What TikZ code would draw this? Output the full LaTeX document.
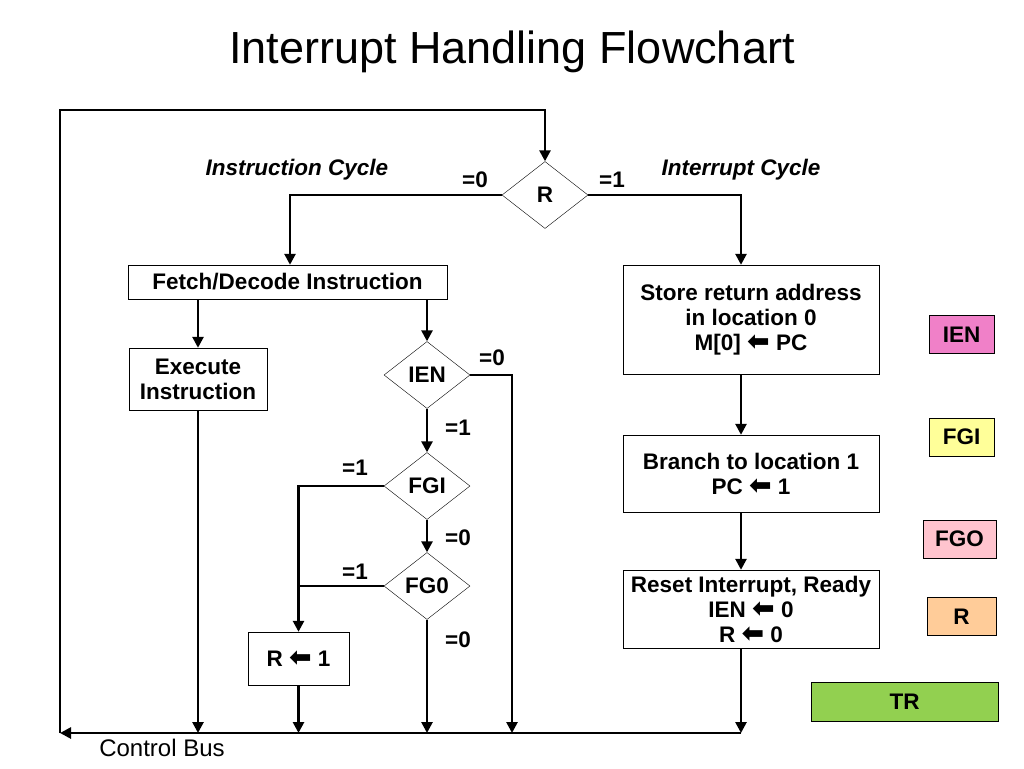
\documentclass[tikz,border=0pt]{standalone}
\usepackage{fontspec}
\setmainfont{Liberation Sans}
\newfontfamily\arrowfont{DejaVu Sans}
\usetikzlibrary{shapes.geometric,arrows.meta}
\newcommand{\getsarrow}{{\arrowfont\fontsize{27}{25}\selectfont ⬅}}
\definecolor{ienpink}{RGB}{240,128,200}
\definecolor{fgiyellow}{RGB}{255,255,153}
\definecolor{fgopink}{RGB}{255,196,206}
\definecolor{rorange}{RGB}{255,204,153}
\definecolor{trgreen}{RGB}{146,208,80}

\begin{document}
\begin{tikzpicture}[x=1pt,y=-1pt,
    font=\fontsize{22.5}{25}\selectfont\bfseries,
    box/.style={draw, thin, rectangle, inner sep=0pt, align=center},
    decision/.style={draw, thin, diamond, aspect=1.3, inner sep=0pt, minimum width=86pt, minimum height=67pt},
    flow/.style={line width=2.6pt, -{Triangle[length=11pt,width=11pt]}},
    plain/.style={line width=2.6pt},
    flag/.style={draw, thin, inner sep=0pt, minimum height=38pt}]
    \useasboundingbox (0,0) rectangle (1024,768);

    \node[font=\fontsize{45}{50}\selectfont] (title) at (512,52) {Interrupt Handling Flowchart};

    \node[decision] (R) at (545,195) {R};
    \node[box, minimum width=319pt, minimum height=34pt] (fetch) at (287.5,282) {Fetch/Decode Instruction};
    \node[box, minimum width=256pt, minimum height=109pt] (store) at (751,319.5) {Store return address\\in location 0\\M[0] \getsarrow{} PC};
    \node[box, minimum width=256pt, minimum height=77pt] (branch) at (751,473.5) {Branch to location 1\\PC \getsarrow{} 1};
    \node[box, minimum width=256pt, minimum height=78pt] (reset) at (751,609) {Reset Interrupt, Ready\\IEN \getsarrow{} 0\\R \getsarrow{} 0};
    \node[box, minimum width=138pt, minimum height=62pt] (exec) at (198,379) {Execute\\Instruction};
    \node[decision] (ien) at (427,375) {IEN};
    \node[decision] (fgi) at (427,486) {FGI};
    \node[decision] (fgo) at (427,586) {FG0};
    \node[box, minimum width=101pt, minimum height=53pt] (setr) at (298.5,658.5) {R \getsarrow{} 1};

    \coordinate (busR) at (741,733);
    \coordinate (busL) at (60,733);
    \coordinate (loop) at (60,110);
    \coordinate (ienout) at (512,375);

    \draw[flow] (busL) -- (loop) -| (R.north);
    \draw[flow] (R.west) -| ([xshift=2.5pt]fetch.north);
    \draw[flow] (R.east) -| ([xshift=-10pt]store.north);
    \draw[flow] ([xshift=-10pt]store.south) -- ([xshift=-10pt]branch.north);
    \draw[flow] ([xshift=-10pt]branch.south) -- ([xshift=-10pt]reset.north);
    \draw[flow] ([xshift=-10pt]reset.south) -- (busR);
    \draw[flow] (busR) -- (busL);
    \draw[flow] (fetch.south -| exec) -- (exec.north);
    \draw[flow] (fetch.south -| ien) -- (ien.north);
    \draw[flow] (exec.south) -- (exec.south |- busL);
    \draw[flow] (ien.east) -- (ienout) -- (ienout |- busL);
    \draw[flow] (ien.south) -- (fgi.north);
    \draw[flow] (fgi.south) -- (fgo.north);
    \draw[flow] (fgi.west) -| (setr.north);
    \draw[plain] (fgo.west) -- (fgo.west -| setr.north);
    \draw[flow] (fgo.south) -- (fgo.south |- busL);
    \draw[flow] (setr.south) -- (setr.south |- busL);

    \node[font=\fontsize{22.5}{25}\selectfont\bfseries\itshape] (icycle) at (297,170) {Instruction Cycle};
    \node[font=\fontsize{22.5}{25}\selectfont\bfseries\itshape] (intcycle) at (741,170) {Interrupt Cycle};
    \node (rzero) at (475,180) {=0};
    \node (rone) at (612,180) {=1};
    \node (ienzero) at (492,358) {=0};
    \node (ienone) at (458,428) {=1};
    \node (fgione) at (355,468) {=1};
    \node (fgizero) at (458,538) {=0};
    \node (fgoone) at (355,572) {=1};
    \node (fgozero) at (458,640) {=0};
    \node[font=\fontsize{24}{26}\selectfont] (bus) at (162,748) {Control Bus};

    \node[flag, fill=ienpink, minimum width=65pt] (fien) at (961.5,334.5) {IEN};
    \node[flag, fill=fgiyellow, minimum width=65pt] (ffgi) at (961.5,437) {FGI};
    \node[flag, fill=fgopink, minimum width=73pt] (ffgo) at (959.5,539) {FGO};
    \node[flag, fill=rorange, minimum width=69pt] (fr) at (961.5,616.5) {R};
    \node[flag, fill=trgreen, minimum width=187pt, minimum height=39pt] (ftr) at (904.5,701.5) {TR};
\end{tikzpicture}
\end{document}
